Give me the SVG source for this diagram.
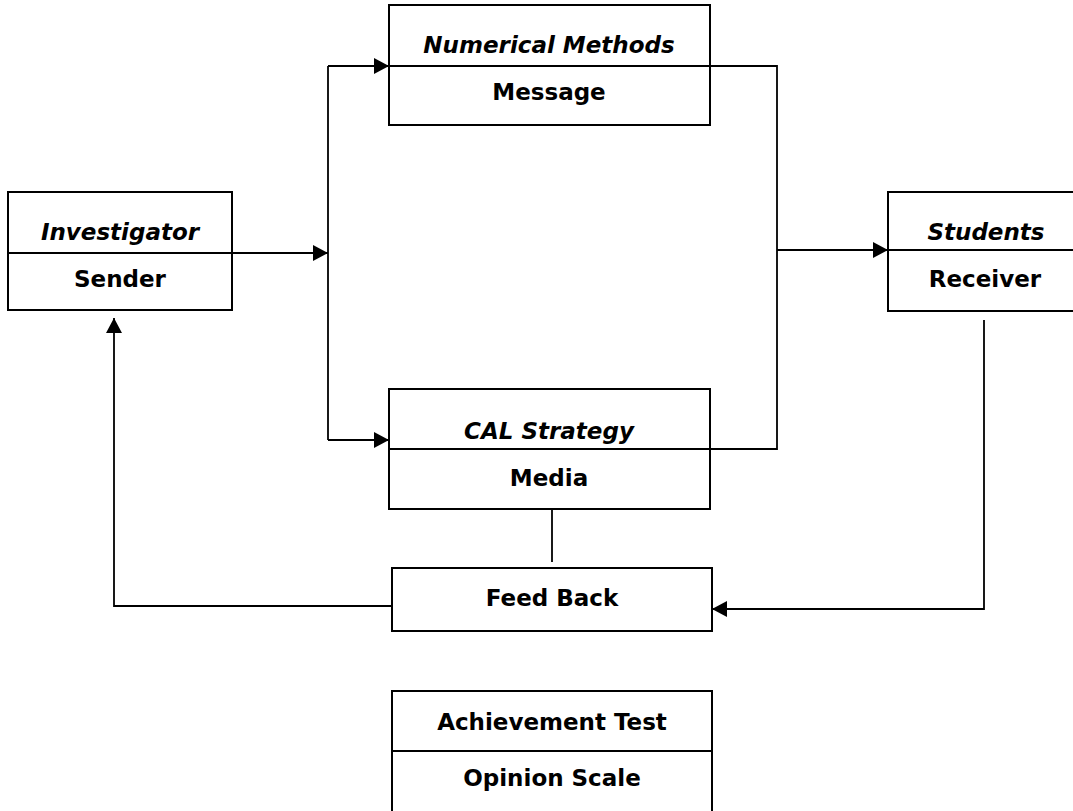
<svg xmlns="http://www.w3.org/2000/svg" width="1073" height="811" viewBox="0 0 1073 811">
<style>
.box{fill:#fff;stroke:#000;stroke-width:2}
.div{stroke:#000;stroke-width:2}
.ln{fill:none;stroke:#000;stroke-width:1.8}
.t{font-family:"DejaVu Sans",Verdana,sans-serif;font-weight:bold;font-size:23px;text-anchor:middle;fill:#000}
.i{font-style:italic}
</style>
<defs>
<marker id="ah" markerUnits="userSpaceOnUse" markerWidth="16" markerHeight="16" viewBox="0 0 16 16" refX="15" refY="8" orient="auto">
<path d="M0,0 L15,8 L0,16 Z" fill="#000"/>
</marker>
</defs>
<rect width="1073" height="811" fill="#fff"/>
<g id="connectors">
<path class="ln" d="M232,253 H328" marker-end="url(#ah)"/>
<path class="ln" d="M328,66 V440"/>
<path class="ln" d="M328,66 H389" marker-end="url(#ah)"/>
<path class="ln" d="M328,440 H389" marker-end="url(#ah)"/>
<path class="ln" d="M710,66 H777 V449 H710"/>
<path class="ln" d="M777,250 H888" marker-end="url(#ah)"/>
<path class="ln" d="M984,320 V609 H712" marker-end="url(#ah)"/>
<path class="ln" d="M552,509 V562"/>
<path class="ln" d="M392,606 H114 V318" marker-end="url(#ah)"/>
</g>
<g id="investigator">
<rect class="box" x="8" y="192" width="224" height="118"/>
<line class="div" x1="8" y1="253" x2="232" y2="253"/>
<text class="t i" x="120" y="240">Investigator</text>
<text class="t" x="120" y="287">Sender</text>
</g>
<g id="numerical">
<rect class="box" x="389" y="5" width="321" height="120"/>
<line class="div" x1="389" y1="66" x2="710" y2="66"/>
<text class="t i" x="549" y="53">Numerical Methods</text>
<text class="t" x="549" y="100">Message</text>
</g>
<g id="cal">
<rect class="box" x="389" y="389" width="321" height="120"/>
<line class="div" x1="389" y1="449" x2="710" y2="449"/>
<text class="t i" x="549" y="439">CAL Strategy</text>
<text class="t" x="549" y="486">Media</text>
</g>
<g id="students">
<rect class="box" x="888" y="192" width="196" height="119"/>
<line class="div" x1="888" y1="250" x2="1084" y2="250"/>
<text class="t i" x="986" y="240">Students</text>
<text class="t" x="985" y="287">Receiver</text>
</g>
<g id="feedback">
<rect class="box" x="392" y="568" width="320" height="63"/>
<text class="t" x="552" y="606">Feed Back</text>
</g>
<g id="evaluation">
<rect class="box" x="392" y="691" width="320" height="130"/>
<line class="div" x1="392" y1="751" x2="712" y2="751"/>
<text class="t" x="552" y="730">Achievement Test</text>
<text class="t" x="552" y="786">Opinion Scale</text>
</g>
</svg>
